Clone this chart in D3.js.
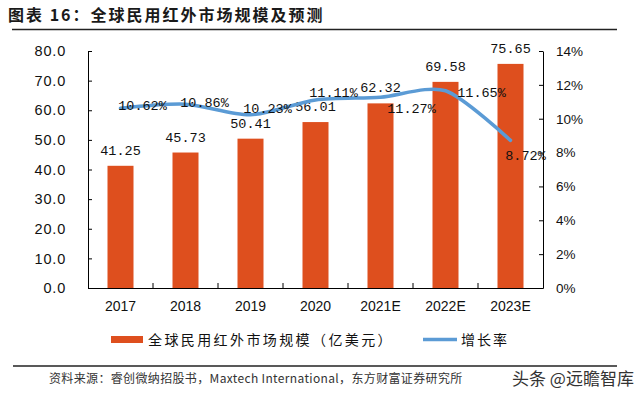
<!DOCTYPE html>
<html>
<head>
<meta charset="utf-8">
<script src="https://cdn.jsdelivr.net/npm/d3@7"></script>
<style>
  body { margin: 0; background: #fff; }
  svg { display: block; }
  .axis path, .axis line { stroke: #000; }
  .axis text { font-family: "Liberation Sans", Arial, sans-serif; fill: #111; }
</style>
</head>
<body>
<div id="chart-area"></div>
<script>
// data
var years = ["2017", "2018", "2019", "2020", "2021E", "2022E", "2023E"];
var marketSize = [41.25, 45.73, 50.41, 56.01, 62.32, 69.58, 75.65]; // 亿美元
var growthRate = [10.62, 10.86, 10.23, 11.11, 11.27, 11.65, 8.72]; // %
var leftTicks = [0, 10, 20, 30, 40, 50, 60, 70, 80];
var rightTicks = [0, 2, 4, 6, 8, 10, 12, 14];

// where each % label sits relative to its point (dx, dy)
var rateLabelOffset = [[22, -3], [19, -2], [17, -7], [18, -8], [31, 11], [36, 1], [15, 15]];

var W = 640, H = 395;
var margin = { left: 88, right: 97, top: 51, bottom: 107 };
var width = W - margin.left - margin.right;
var height = H - margin.top - margin.bottom;

var barColor = "#DE4F1E";
var lineColor = "#5B9BD5";
var cjk = "'Noto Sans CJK SC', sans-serif";
var mono = "'Liberation Mono', 'DejaVu Sans Mono', monospace";

var svg = d3.select("#chart-area")
  .append("svg")
    .attr("width", W)
    .attr("height", H);

// title + rules
svg.append("text")
  .attr("x", 8)
  .attr("y", 21)
  .attr("font-family", cjk)
  .attr("font-weight", "bold")
  .attr("font-size", "16px")
  .attr("letter-spacing", "2px")
  .attr("fill", "#1a1a1a")
  .text("图表 16：全球民用红外市场规模及预测");

svg.append("line")
  .attr("x1", 12).attr("x2", 617)
  .attr("y1", 29.5).attr("y2", 29.5)
  .attr("stroke", "#222").attr("stroke-width", 1.3);

svg.append("line")
  .attr("x1", 13).attr("x2", 617)
  .attr("y1", 366).attr("y2", 366)
  .attr("stroke", "#222").attr("stroke-width", 1.3);

var g = svg.append("g")
  .attr("transform", "translate(" + margin.left + "," + margin.top + ")");

// scales
var x = d3.scaleBand()
  .domain(years)
  .range([0, width])
  .padding(0);

var y = d3.scaleLinear()
  .domain([0, 80])
  .range([height, 0]);

var y2 = d3.scaleLinear()
  .domain([0, 14])
  .range([height, 0]);

// bars
var barW = x.bandwidth() * 0.4;
g.selectAll("rect.bar")
  .data(marketSize)
  .enter()
  .append("rect")
    .attr("class", "bar")
    .attr("x", function(d, i){ return x(years[i]) + (x.bandwidth() - barW) / 2; })
    .attr("y", function(d){ return y(d); })
    .attr("width", barW)
    .attr("height", function(d){ return height - y(d); })
    .attr("fill", barColor);

// bar labels
g.selectAll("text.barLabel")
  .data(marketSize)
  .enter()
  .append("text")
    .attr("class", "barLabel")
    .attr("x", function(d, i){ return x(years[i]) + x.bandwidth() / 2; })
    .attr("y", function(d){ return y(d) - 11; })
    .attr("text-anchor", "middle")
    .attr("font-family", mono)
    .attr("font-size", "13.5px")
    .attr("fill", "#111")
    .text(function(d){ return d.toFixed(2); });

// axes
var yAxisCall = d3.axisLeft(y)
  .tickValues(leftTicks)
  .tickSizeInner(-4)
  .tickSizeOuter(0)
  .tickPadding(22)
  .tickFormat(d3.format(".1f"));
var yAxisGroup = g.append("g")
  .attr("class", "axis")
  .call(yAxisCall);
yAxisGroup.selectAll("text")
  .attr("font-size", "14.5px")
  .attr("letter-spacing", "0.8px");

var y2AxisCall = d3.axisRight(y2)
  .tickValues(rightTicks)
  .tickSizeInner(-4)
  .tickSizeOuter(0)
  .tickPadding(13)
  .tickFormat(function(d){ return d + "%"; });
var y2AxisGroup = g.append("g")
  .attr("class", "axis")
  .attr("transform", "translate(" + width + ",0)")
  .call(y2AxisCall);
y2AxisGroup.selectAll("text")
  .attr("font-size", "13.5px");

var xAxisCall = d3.axisBottom(x)
  .tickSize(0)
  .tickPadding(13);
var xAxisGroup = g.append("g")
  .attr("class", "axis")
  .attr("transform", "translate(0," + height + ")")
  .call(xAxisCall);
xAxisGroup.selectAll("text")
  .attr("font-size", "14px");

// category boundary ticks (inward)
xAxisGroup.selectAll("line.bound")
  .data(years.slice(1))
  .enter()
  .append("line")
    .attr("class", "bound")
    .attr("x1", function(d){ return x(d); })
    .attr("x2", function(d){ return x(d); })
    .attr("y1", 0)
    .attr("y2", -5)
    .attr("stroke", "#000");

// growth line
var line = d3.line()
  .x(function(d, i){ return x(years[i]) + x.bandwidth() / 2; })
  .y(function(d){ return y2(d); })
  .curve(d3.curveCardinal.tension(0.2));

g.append("path")
  .datum(growthRate)
  .attr("d", line)
  .attr("fill", "none")
  .attr("stroke", lineColor)
  .attr("stroke-width", 3.5)
  .attr("stroke-linecap", "round");

// % labels
g.selectAll("text.rateLabel")
  .data(growthRate)
  .enter()
  .append("text")
    .attr("class", "rateLabel")
    .attr("x", function(d, i){ return x(years[i]) + x.bandwidth() / 2 + rateLabelOffset[i][0]; })
    .attr("y", function(d, i){ return y2(d) + rateLabelOffset[i][1]; })
    .attr("dy", "0.35em")
    .attr("text-anchor", "middle")
    .attr("font-family", mono)
    .attr("font-size", "13.5px")
    .attr("fill", "#111")
    .text(function(d){ return d.toFixed(2) + "%"; });

// legend
var legend = svg.append("g");
legend.append("rect")
  .attr("x", 111).attr("y", 336)
  .attr("width", 32).attr("height", 7)
  .attr("fill", barColor);
legend.append("text")
  .attr("x", 148).attr("y", 340)
  .attr("dy", "0.35em")
  .attr("font-family", cjk)
  .attr("font-size", "14px")
  .attr("letter-spacing", "2.4px")
  .attr("fill", "#111")
  .text("全球民用红外市场规模（亿美元）");
legend.append("line")
  .attr("x1", 423).attr("x2", 457)
  .attr("y1", 339.5).attr("y2", 339.5)
  .attr("stroke", lineColor)
  .attr("stroke-width", 3.5);
legend.append("text")
  .attr("x", 461).attr("y", 340)
  .attr("dy", "0.35em")
  .attr("font-family", cjk)
  .attr("font-size", "14px")
  .attr("letter-spacing", "2px")
  .attr("fill", "#111")
  .text("增长率");

// source + watermark
svg.append("text")
  .attr("x", 49).attr("y", 379)
  .attr("dy", "0.35em")
  .attr("font-family", cjk)
  .attr("font-size", "12px")
  .attr("letter-spacing", "0.35px")
  .attr("fill", "#333")
  .text("资料来源：睿创微纳招股书，Maxtech International，东方财富证券研究所");

svg.append("text")
  .attr("x", 512).attr("y", 379)
  .attr("dy", "0.35em")
  .attr("font-family", cjk)
  .attr("font-size", "17px")
  .attr("fill", "#333")
  .text("头条 @远瞻智库");
</script>
</body>
</html>
